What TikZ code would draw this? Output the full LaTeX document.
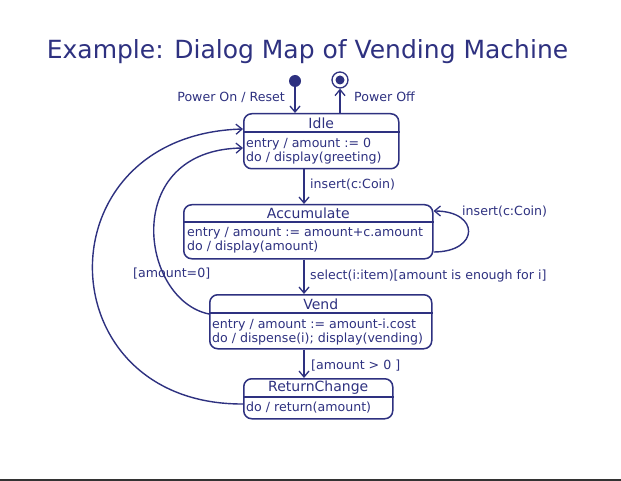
\documentclass[tikz,border=0pt]{standalone}
\usepackage{fontspec}
\setmainfont{DejaVu Sans}
\usetikzlibrary{arrows.meta,calc}
\definecolor{navy}{RGB}{46,49,128}
\begin{document}
\begin{tikzpicture}[x=1pt,y=-1pt,
 statebox/.style={draw=navy, line width=1.5pt, rounded corners=8pt, inner sep=0pt, anchor=north west},
 divider/.style={draw=navy, line width=1.5pt},
 txt/.style={text=navy, inner sep=0pt, font=\fontsize{12.6}{14}\selectfont},
 stitle/.style={text=navy, inner sep=0pt, font=\fontsize{14}{16}\selectfont},
 body/.style={txt, align=left, anchor=north west},
 arr/.style={draw=navy, line width=1.4pt, -{Straight Barb[length=6pt,width=10pt,line width=1.3pt]}},
]
\useasboundingbox (0,0) rectangle (621,481);
\fill[white] (0,0) rectangle (621,481);

\node[text=navy, inner sep=0pt, font=\fontsize{25}{30}\selectfont] (title) at (307.5,52) {Example: Dialog Map of Vending Machine};

% pseudo states
\node[circle, fill=navy, minimum size=12pt, inner sep=0pt] (init) at (295,81) {};
\node[circle, draw=navy, line width=1.3pt, minimum size=16pt, inner sep=0pt] (final) at (340,80) {};
\node[circle, fill=navy, minimum size=9pt, inner sep=0pt] (finalin) at (final) {};

% Idle
\node[statebox, minimum width=155pt, minimum height=55pt] (idle) at (243,113) {};
\draw[divider] ($(idle.north west)+(0,19)$) -- ($(idle.north east)+(0,19)$);
\node[stitle] (idleT) at ($(idle.north)+(0,10)$) {Idle};
\node[body] (idleB) at ($(idle.north west)+(3,24.5)$) {entry / amount := 0\\do / display(greeting)};

% Accumulate
\node[statebox, minimum width=249pt, minimum height=54pt] (acc) at (183,204) {};
\draw[divider] ($(acc.north west)+(0,18)$) -- ($(acc.north east)+(0,18)$);
\node[stitle] (accT) at ($(acc.north)+(0,9.5)$) {Accumulate};
\node[body] (accB) at ($(acc.north west)+(4,23.5)$) {entry / amount := amount+c.amount\\do / display(amount)};

% Vend
\node[statebox, minimum width=222pt, minimum height=54pt] (vend) at (209,294) {};
\draw[divider] ($(vend.north west)+(0,19)$) -- ($(vend.north east)+(0,19)$);
\node[stitle] (vendT) at ($(vend.north)+(0,10)$) {Vend};
\node[body] (vendB) at ($(vend.north west)+(3,24.5)$) {entry / amount := amount-i.cost\\do / dispense(i); display(vending)};

% ReturnChange
\node[statebox, minimum width=149pt, minimum height=40pt] (ret) at (243,378) {};
\draw[divider] ($(ret.north west)+(0,19)$) -- ($(ret.north east)+(0,19)$);
\node[stitle] (retT) at ($(ret.north)+(0,10)$) {ReturnChange};
\node[body] (retB) at ($(ret.north west)+(3,24)$) {do / return(amount)};

% transitions
\coordinate (cx) at (304,0);
\draw[arr] (init) -- (init |- idle.north);
\draw[arr] (final |- idle.north) -- (final);
\draw[arr] (cx |- idle.south) -- (cx |- acc.north);
\draw[arr] (cx |- acc.south) -- (cx |- vend.north);
\draw[arr] (cx |- vend.south) -- (cx |- ret.north);
\draw[arr] ($(acc.north east)+(0,48)$) .. controls (480,252) and (480,211) .. ($(acc.north east)+(0,7)$);
\draw[arr] ($(vend.north west)+(0,20)$) .. controls (140,300) and (120,150) .. ($(idle.north west)+(0,35)$);
\draw[arr] ($(ret.north west)+(0,26)$) .. controls (45,405) and (40,135) .. ($(idle.north west)+(0,16)$);

% labels
\node[txt, anchor=east] (l6) at (285,97) {Power On / Reset};
\node[txt, anchor=west] (l7) at (354,97) {Power Off};
\node[txt, anchor=west] (l1) at (310,185) {insert(c:Coin)};
\node[txt, anchor=west] (l4) at (462,212) {insert(c:Coin)};
\node[txt, anchor=west] (l2) at (310,276) {select(i:item)[amount is enough for i]};
\node[txt, anchor=west] (l5) at (133,274) {[amount=0]};
\node[txt, anchor=west] (l3) at (311,366) {[amount > 0 ]};

\draw[line width=2pt, black!80] (0,480) -- (621,480);
\end{tikzpicture}
\end{document}
